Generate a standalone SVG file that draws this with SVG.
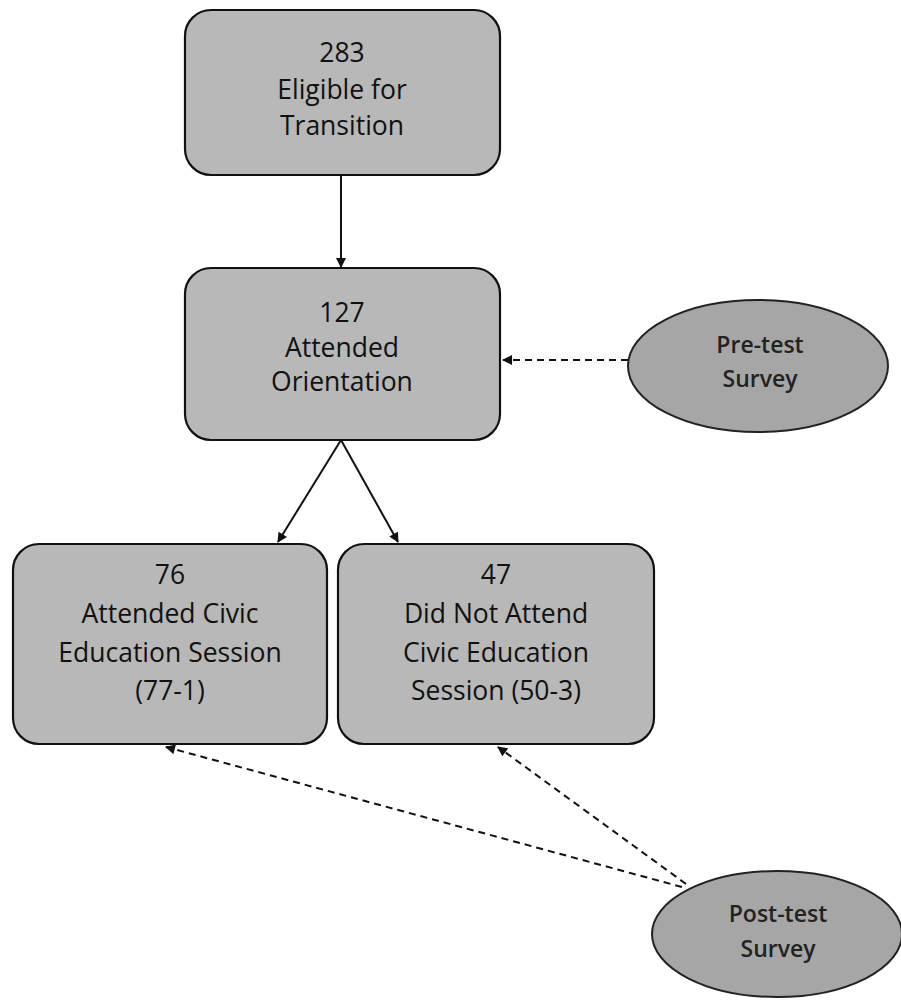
<svg xmlns="http://www.w3.org/2000/svg" width="901" height="1002" viewBox="0 0 901 1002">
<style>
.box{fill:#b8b8b8;stroke:#111;stroke-width:2.2}
.ell{fill:#a6a6a6;stroke:#222;stroke-width:2}
.t{font-family:"Open Sans","Liberation Sans",sans-serif;font-size:26.5px;fill:#111;text-anchor:middle}
.te{font-family:"Open Sans","Liberation Sans",sans-serif;font-size:23px;fill:#222;text-anchor:middle;font-weight:600}
.solid{stroke:#111;stroke-width:2;fill:none;marker-end:url(#ah)}
.dash{stroke:#111;stroke-width:2;fill:none;stroke-dasharray:7 5;marker-end:url(#ah)}
</style>
<defs>
<marker id="ah" viewBox="0 0 10 10" refX="9" refY="5" markerWidth="12" markerHeight="10" markerUnits="userSpaceOnUse" orient="auto"><path d="M0,0 L10,5 L0,10 z" fill="#111"/></marker>
</defs>
<rect width="901" height="1002" fill="#fff"/>
<g id="connectors">
<path class="solid" d="M341,175 L341,267"/>
<path class="dash" d="M628,360 L503,360"/>
<path class="solid" d="M341,440 L278,542"/>
<path class="solid" d="M341,440 L398,542"/>
<path class="dash" d="M682,887 L166,747"/>
<path class="dash" d="M686,884 L498,747"/>
</g>
<g id="n1">
<rect class="box" x="185" y="10" width="315" height="165" rx="26"/>
<text class="t" x="342" y="62">283</text>
<text class="t" x="342" y="99">Eligible for</text>
<text class="t" x="342" y="135">Transition</text>
</g>
<g id="n2">
<rect class="box" x="185" y="268" width="315" height="172" rx="26"/>
<text class="t" x="342" y="322">127</text>
<text class="t" x="342" y="357">Attended</text>
<text class="t" x="342" y="391">Orientation</text>
</g>
<g id="n3">
<rect class="box" x="13" y="544" width="314" height="200" rx="26"/>
<text class="t" x="170" y="584">76</text>
<text class="t" x="170" y="623">Attended Civic</text>
<text class="t" x="170" y="662">Education Session</text>
<text class="t" x="170" y="700">(77-1)</text>
</g>
<g id="n4">
<rect class="box" x="338" y="544" width="316" height="200" rx="26"/>
<text class="t" x="496" y="584">47</text>
<text class="t" x="496" y="623">Did Not Attend</text>
<text class="t" x="496" y="662">Civic Education</text>
<text class="t" x="496" y="700">Session (50-3)</text>
</g>
<g id="pre">
<ellipse class="ell" cx="758" cy="366" rx="130" ry="66"/>
<text class="te" x="760" y="353">Pre-test</text>
<text class="te" x="760" y="387">Survey</text>
</g>
<g id="post">
<ellipse class="ell" cx="777" cy="934" rx="125" ry="63"/>
<text class="te" x="778" y="922">Post-test</text>
<text class="te" x="778" y="957">Survey</text>
</g>
</svg>
